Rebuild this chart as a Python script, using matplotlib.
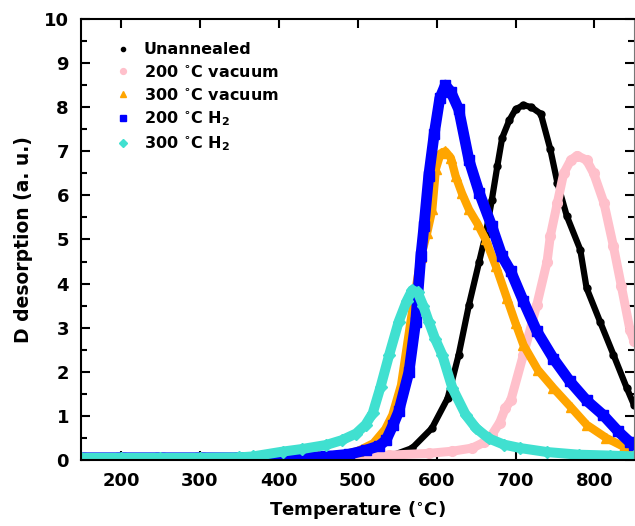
import matplotlib
matplotlib.use("Agg")
import matplotlib.pyplot as plt

plt.rcParams['font.family'] = ['DejaVu Sans']
plt.rcParams['font.weight'] = 'bold'
plt.rcParams['mathtext.fontset'] = 'custom'
plt.rcParams['mathtext.rm'] = 'DejaVu Sans:bold'
plt.rcParams['mathtext.it'] = 'DejaVu Sans:bold'
plt.rcParams['mathtext.bf'] = 'DejaVu Sans:bold'

# D desorption traces vs temperature (deg C)
T_unann = [150, 200, 250, 300, 350, 400, 450, 500, 540, 569, 594, 614, 628, 641, 654, 662,
           670, 677, 683, 692, 700, 710, 720, 732, 744, 753, 765, 782, 790, 807, 824, 841, 850]
D_unann = [0.05, 0.05, 0.05, 0.05, 0.05, 0.05, 0.05, 0.05, 0.08, 0.27, 0.72, 1.4, 2.39, 3.52, 4.5, 5.1,
           5.9, 6.67, 7.3, 7.7, 7.95, 8.05, 8.0, 7.85, 7.05, 6.29, 5.53, 4.77, 3.9, 3.14, 2.39, 1.63, 1.25]

T_vac200 = [150, 200, 250, 300, 350, 400, 450, 500, 540, 590, 620, 645, 660, 670, 680, 687, 694,
            710, 727, 740, 744, 753, 761, 770, 778, 790, 799, 812, 824, 834, 845, 850]
D_vac200 = [0.05, 0.05, 0.05, 0.05, 0.05, 0.05, 0.06, 0.08, 0.11, 0.15, 0.2, 0.27, 0.4, 0.57, 0.85, 1.17, 1.35,
            2.39, 3.52, 4.5, 5.07, 5.83, 6.5, 6.8, 6.9, 6.8, 6.5, 5.83, 4.85, 3.95, 2.95, 2.7]

T_vac300 = [150, 200, 250, 300, 350, 400, 450, 480, 500, 520, 535, 544, 555, 567, 580, 588, 594.5,
            599, 605, 611, 618, 624, 632, 641, 652, 662, 675, 689, 700, 710, 728, 748, 770, 790,
            815, 837, 850]
D_vac300 = [0.05, 0.06, 0.06, 0.06, 0.06, 0.07, 0.09, 0.12, 0.2, 0.38, 0.7, 1.02, 1.7, 3.14, 4.6, 5.15, 5.68,
            6.6, 6.95, 7.0, 6.85, 6.44, 6.05, 5.68, 5.35, 5.0, 4.4, 3.67, 3.1, 2.61, 2.05, 1.63, 1.2, 0.8,
            0.5, 0.3, 0.22]

T_h200 = [150, 200, 250, 300, 350, 400, 430, 460, 489, 510, 527, 536, 545, 552, 565, 573.5, 580, 584,
          590, 597, 604, 611, 618, 628, 641, 654, 670, 683, 694, 710, 727, 748, 769, 790, 811, 830,
          845, 850]
D_h200 = [0.05, 0.05, 0.05, 0.05, 0.05, 0.05, 0.06, 0.08, 0.13, 0.22, 0.32, 0.45, 0.8, 1.1, 2.0, 3.14, 4.62, 5.3,
          6.44, 7.4, 8.2, 8.5, 8.35, 7.95, 6.8, 6.06, 5.3, 4.62, 4.28, 3.6, 2.92, 2.3, 1.78, 1.35, 1.02, 0.65,
          0.4, 0.34]

T_h300 = [150, 200, 250, 300, 350, 367, 405, 430, 460, 480, 498, 510, 519, 529, 540, 552, 562, 569,
          576, 583, 590, 598, 607, 620, 637, 650, 666, 685, 706, 740, 780, 820, 850]
D_h300 = [0.05, 0.05, 0.05, 0.05, 0.06, 0.08, 0.19, 0.25, 0.34, 0.45, 0.6, 0.8, 1.06, 1.66, 2.39, 3.14, 3.6, 3.85,
          3.8, 3.5, 3.14, 2.75, 2.39, 1.63, 1.02, 0.72, 0.49, 0.35, 0.27, 0.18, 0.12, 0.1, 0.08]

series = [
    (T_unann, D_unann, 'black', 'o', 5.0, 4.5, 'Unannealed'),
    (T_vac200, D_vac200, 'pink', 'o', 7.0, 6.5, r'200 $^{\circ}$C vacuum'),
    (T_vac300, D_vac300, 'orange', '^', 7.0, 6.0, r'300 $^{\circ}$C vacuum'),
    (T_h200, D_h200, 'blue', 's', 7.0, 7.8, r'200 $^{\circ}$C H$_2$'),
    (T_h300, D_h300, 'turquoise', 'D', 6.5, 7.2, r'300 $^{\circ}$C H$_2$'),
]

fig = plt.figure(figsize=(6.35, 5.26), dpi=100)
ax = fig.add_axes([0.1283, 0.1255, 0.870, 0.8384])

for T, D, col, mk, ms, lw, lab in series:
    # thick band through the points, then the points themselves
    ax.plot(T, D, '-', color=col, lw=lw, solid_capstyle='round', solid_joinstyle='round')
    ax.plot(T, D, mk, color=col, ms=ms, mec=col, label=lab)

ax.set_xlim(150, 850)
ax.set_ylim(0, 10)
ax.set_xticks([200, 300, 400, 500, 600, 700, 800])
ax.set_yticks(range(0, 11))
ax.set_yticks([i + 0.5 for i in range(10)], minor=True)
ax.tick_params(axis='both', which='major', direction='in', length=6.5, width=1.5,
               labelsize=13, top=True, right=True, pad=9)
ax.tick_params(axis='y', which='minor', direction='in', length=4, width=1.5, right=True)
for s in ['left', 'bottom', 'top']:
    ax.spines[s].set_linewidth(1.5)
ax.spines['right'].set_linewidth(0.8)
ax.spines['right'].set_color('#777777')

ax.set_xlabel(r'Temperature ($^{\circ}$C)', fontsize=13, fontweight='bold', labelpad=6)
ax.set_ylabel('D desorption (a. u.)', fontsize=13.5, fontweight='bold', labelpad=8)

leg = ax.legend(loc='upper left', bbox_to_anchor=(0.035, 0.98), frameon=False, fontsize=11.5,
                handlelength=1.0, handletextpad=0.8, labelspacing=0.42, markerscale=0.6)

plt.savefig('out.png', dpi=100)
